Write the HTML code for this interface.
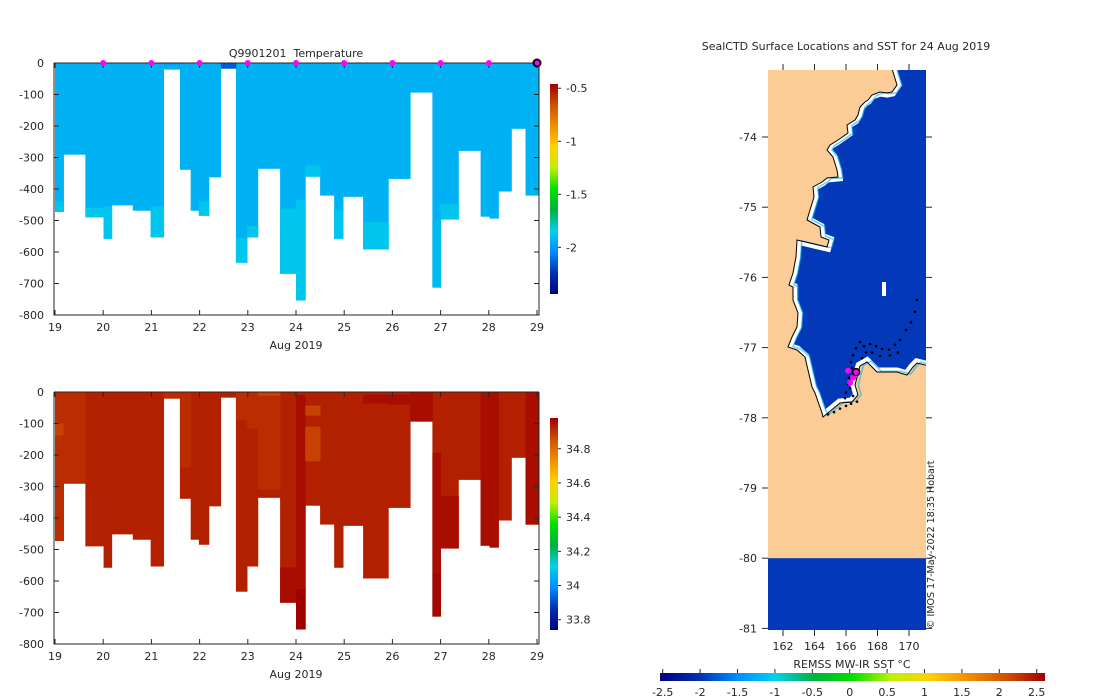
<!DOCTYPE html>
<html><head><meta charset="utf-8"><style>
html,body{margin:0;padding:0;background:#fff;}
svg{display:block;font-family:"DejaVu Sans","Liberation Sans",sans-serif;}
text{fill:#262626;font-size:11px;}
</style></head><body>
<svg id="svg" width="1100" height="700" viewBox="0 0 1100 700">
<defs>
<linearGradient id="gv" x1="0" y1="1" x2="0" y2="0"></linearGradient>
<linearGradient id="gh" x1="0" y1="0" x2="1" y2="0"></linearGradient>
<clipPath id="mapclip"><rect x="768" y="70" width="158" height="560"/></clipPath>
</defs>
<g id="temp"></g>
<g id="sal"></g>
<g id="map"></g>
</svg>
<script>
// ----- profile data -----
const colStart=[19.0,19.177,19.63,20.008,20.177,20.615,20.985,21.254,21.592,21.815,21.985,22.192,22.438,22.754,22.985,23.208,23.67,24.0,24.192,24.5,24.792,24.977,25.392,25.915,26.369,26.83,27.0,27.369,27.83,28.015,28.2,28.469,28.762];
const colEnd=[19.177,19.63,20.008,20.177,20.615,20.985,21.254,21.592,21.815,21.985,22.192,22.438,22.754,22.985,23.208,23.67,24.0,24.192,24.5,24.792,24.977,25.392,25.915,26.369,26.83,27.0,27.369,27.83,28.015,28.2,28.469,28.762,29.038];
const colDepth=[473,291,490,558,452,469,554,21,339,469,485,363,18,634,554,336,669,754,361,421,558,425,592,368,94,713,497,279,488,494,408,209,421];
const tempBase=-1.94;
// [column, topDepth, bottomDepth, value]
const tempSegs=[[0,440,473,-1.88],[2,460,490,-1.88],[3,455,558,-1.88],[6,455,554,-1.88],[7,0,8,-1.99],[10,440,485,-1.88],[12,0,18,-2.15],[13,555,634,-1.88],[14,518,554,-1.88],[16,462,669,-1.88],[17,435,754,-1.88],[18,325,361,-1.88],[20,468,558,-1.88],[22,505,592,-1.88],[25,500,713,-1.91],[26,448,497,-1.88]];
const salBase=34.93;
const salSegs=[[0,0,100,34.91],[0,100,138,34.88],[0,138,473,34.91],[1,0,291,34.91],[7,0,21,34.91],[8,0,239,34.91],[13,0,90,34.91],[14,0,116,34.91],[15,0,13,34.88],[15,13,310,34.91],[16,557,669,34.96],[17,10,625,34.96],[17,625,754,34.99],[18,43,75,34.88],[18,110,220,34.88],[22,8,37,34.96],[23,8,40,34.96],[24,0,94,34.96],[25,193,575,34.96],[25,575,713,34.97],[26,330,497,34.96],[28,0,488,34.96],[29,0,494,34.96],[32,0,421,34.96]];
const dayTicks=[19,20,21,22,23,24,25,26,27,28,29];
const depthTicks=[0,-100,-200,-300,-400,-500,-600,-700,-800];
const tempCbTicks=[-0.5,-1,-1.5,-2];
const salCbTicks=[34.8,34.6,34.4,34.2,34,33.8];
const markerDays=[20,21,22,23,24,25,26,27,28];
const lastMarkerDay=29;
// ----- map data -----
const latTicks=[-74,-75,-76,-77,-78,-79,-80,-81];
const lonTicks=[162,164,166,168,170];
const sstTicks=[-2.5,-2,-1.5,-1,-0.5,0,0.5,1,1.5,2,2.5];
const trackLon=[170.51,170.38,170.13,169.81,169.43,169.11,168.73,168.29,167.91,167.53,167.15,166.89,166.64,166.45,166.32,166.38,166.19,166.26,166.45,166.32,166.0,165.62,165.24,164.86,165.94,166.7,168.16,168.79,169.3,167.66,167.28,167.02,166.13,166.0];
const trackLat=[-76.32,-76.49,-76.64,-76.75,-76.89,-76.96,-77.03,-77.02,-76.98,-76.95,-76.98,-76.92,-77.01,-77.11,-77.21,-77.29,-77.43,-77.58,-77.69,-77.8,-77.83,-77.87,-77.92,-77.95,-77.72,-77.77,-77.12,-77.11,-77.07,-77.07,-77.07,-77.15,-77.52,-77.64];
const surfLon=[166.13,166.45,166.26];
const surfLat=[-77.33,-77.43,-77.5];
const currLon=[166.64], currLat=[-77.35];

const NS="http://www.w3.org/2000/svg";
const svg=document.getElementById('svg');
function mk(tag,attrs,parent){const e=document.createElementNS(NS,tag);for(const k in attrs)e.setAttribute(k,attrs[k]);(parent||svg).appendChild(e);return e;}
const stops=[[0,[0,0,127]],[0.1,[0,48,176]],[0.2,[0,140,255]],[0.3,[0,210,235]],[0.4,[0,176,64]],[0.5,[0,224,0]],[0.6,[192,240,0]],[0.7,[255,208,0]],[0.8,[240,144,0]],[0.9,[208,80,0]],[1,[160,0,0]]];
function cmap(t){t=Math.max(0,Math.min(1,t));for(let i=1;i<stops.length;i++){if(t<=stops[i][0]){const a=stops[i-1],b=stops[i],f=(t-a[0])/(b[0]-a[0]);const c=a[1].map((v,j)=>Math.round(v+(b[1][j]-v)*f));return `rgb(${c[0]},${c[1]},${c[2]})`;}}return 'rgb(160,0,0)';}
['gv','gh'].forEach(id=>{const g=document.getElementById(id);stops.forEach(s=>{mk('stop',{offset:s[0],'stop-color':cmap(s[0])},g);});});

function panel(g,top,vmin,vmax,base,segs,cbTicks,title,isTemp){
  const x0=55,x1=537,bot=top+252;
  const X=d=>x0+(d-19)*(x1-x0)/10;
  const Y=v=>top+(-v)*(bot-top)/800;
  const col=v=>cmap((v-vmin)/(vmax-vmin));
  colStart.forEach((s,i)=>{
    const r=mk('rect',{x:X(s),y:Y(0),width:X(colEnd[i])-X(s)+0.4,height:Y(-colDepth[i])-Y(0),fill:col(base)},g);
    
    
  });
  segs.forEach(sg=>{
    const i=sg[0];
    const r=mk('rect',{x:X(colStart[i]),y:Y(-sg[1]),width:X(colEnd[i])-X(colStart[i])+0.4,height:Y(-sg[2])-Y(-sg[1]),fill:col(sg[3])},g);
    
    
  });
  const ax=mk('g',{},g);
  
  
  mk('path',{d:`M${x0-1},${top}V${bot}H539V${top}`,fill:'none',stroke:'#262626','stroke-width':1},ax);
  mk('line',{x1:x0-1,y1:top,x2:539,y2:top,stroke:'#262626'},ax);
  dayTicks.forEach(d=>{
    mk('line',{x1:X(d),y1:bot,x2:X(d),y2:bot-5,stroke:'#262626'},ax);
    mk('line',{x1:X(d),y1:top,x2:X(d),y2:top+5,stroke:'#262626'},ax);
    const t=mk('text',{x:X(d),y:bot+16,'text-anchor':'middle'},ax);t.textContent=d;
    
  });
  depthTicks.forEach(v=>{
    mk('line',{x1:x0-1,y1:Y(v),x2:x0+4,y2:Y(v),stroke:'#262626'},ax);
    mk('line',{x1:539,y1:Y(v),x2:534,y2:Y(v),stroke:'#262626'},ax);
    const t=mk('text',{x:x0-11,y:Y(v)+4,'text-anchor':'end'},ax);t.textContent=v;
    
  });
  const xl=mk('text',{x:296,y:bot+34,'text-anchor':'middle'},ax);xl.textContent='Aug 2019';
  
  if(title){const tt=mk('text',{x:296,y:top-6,'text-anchor':'middle',style:'white-space:pre'},ax);tt.textContent=title;
    }
  const cbTop=isTemp?84:418, cbBot=isTemp?294:630;
  const cb=mk('rect',{x:550,y:cbTop,width:8,height:cbBot-cbTop,fill:'url(#gv)'},g);
  
  const CY=v=>cbBot-(v-vmin)/(vmax-vmin)*(cbBot-cbTop);
  cbTicks.forEach(v=>{
    mk('line',{x1:558,y1:CY(v),x2:561,y2:CY(v),stroke:'#262626'},g);
    const t=mk('text',{x:566,y:CY(v)+4},g);t.textContent=v;
    
  });
  if(isTemp){
    markerDays.forEach(d=>{const c=mk('circle',{cx:X(d),cy:top,r:3,fill:'#ff00ff'},g);
      });
    const c=mk('circle',{cx:X(lastMarkerDay),cy:top,r:3.5,fill:'#ff00ff',stroke:'#000','stroke-width':2},g);
    
  }
}
panel(document.getElementById('temp'),63,-2.44,-0.46,tempBase,tempSegs,tempCbTicks,'Q9901201  Temperature',true);
panel(document.getElementById('sal'),392,33.74,34.98,salBase,salSegs,salCbTicks,null,false);

// ----- map -----
const M=document.getElementById('map');
const LX=l=>783+(l-162)*15.75;
const LY=l=>137+(-74-l)*70.2;
const mt=mk('text',{x:846,y:50,'text-anchor':'middle'},M);mt.textContent='SealCTD Surface Locations and SST for 24 Aug 2019';

const mg=mk('g',{'clip-path':'url(#mapclip)'},M);
mk('rect',{x:768,y:70,width:158,height:560,fill:'#fccc96'},mg);
mk('rect',{x:768,y:LY(-80),width:158,height:630-LY(-80),fill:'#0338b8'},mg);
const pts="890,60 945,60 945,370 917,363 913,367 907,375 897,372 877,372 867,362 860,366 855,385 858,395 852,402 840,403 823,417 822,413 815,393 812,387 808,370 805,357 797,350 788,347 792,337 797,327 798,313 793,300 793,287 789,285 793,273 796,257 797,240 827,247 829,240 821,237 820,227 807,220 810,210 814,197 813,187 822,182 827,178 838,177 837,170 833,157 827,150 830,145 838,140 848,133 847,125 855,120 858,115 860,107 865,102 868,100 872,95 880,92 887,93 892,92 897,85 893,72";
mk('clipPath',{id:'oceanclip'},svg.querySelector('defs')).appendChild((()=>{const p=document.createElementNS(NS,'polygon');p.setAttribute('points',pts);return p;})());
mk('polygon',{points:pts,fill:'#0338b8'},mg);
mk('polygon',{points:pts,fill:'none',stroke:'#fff','stroke-width':9,'clip-path':'url(#oceanclip)'},mg);
mk('polygon',{points:pts,fill:'none',stroke:'#00b0f0','stroke-width':3,'clip-path':'url(#oceanclip)',transform:'translate(4,0)',opacity:0.6},mg);
mk('polygon',{points:pts,fill:'none',stroke:'#000','stroke-width':1},mg);
mk('rect',{x:882,y:282,width:4,height:14,fill:'#fff'},mg);
trackLon.forEach((l,i)=>{const c=mk('circle',{cx:LX(l),cy:LY(trackLat[i]),r:1.3,fill:'#000'},mg);
  });
surfLon.forEach((l,i)=>{const c=mk('circle',{cx:LX(l),cy:LY(surfLat[i]),r:3,fill:'#ff00ff'},mg);
  });
currLon.forEach((l,i)=>{const c=mk('circle',{cx:LX(l),cy:LY(currLat[i]),r:3.5,fill:'#ff00ff',stroke:'#000','stroke-width':1.5},mg);
  });
latTicks.forEach(v=>{
  mk('line',{x1:762,y1:LY(v),x2:768,y2:LY(v),stroke:'#262626'},M);
  mk('line',{x1:926,y1:LY(v),x2:932,y2:LY(v),stroke:'#262626'},M);
  const t=mk('text',{x:757,y:LY(v)+4,'text-anchor':'end'},M);t.textContent=v;
  
});
lonTicks.forEach(v=>{
  mk('line',{x1:LX(v),y1:630,x2:LX(v),y2:636,stroke:'#262626'},M);
  mk('line',{x1:LX(v),y1:64,x2:LX(v),y2:70,stroke:'#262626'},M);
  const t=mk('text',{x:LX(v),y:650,'text-anchor':'middle'},M);t.textContent=v;
  
});
const cr=mk('text',{x:0,y:0,transform:'translate(934,629) rotate(-90)',style:'font-size:9.5px'},M);cr.textContent='© IMOS 17-May-2022 18:35 Hobart';

const sb=mk('rect',{x:660,y:673,width:385,height:8,fill:'url(#gh)'},M);

const SX=v=>662.7+(v+2.5)*(1036.7-662.7)/5;
sstTicks.forEach(v=>{
  mk('line',{x1:SX(v),y1:669,x2:SX(v),y2:673,stroke:'#262626'},M);
  const t=mk('text',{x:SX(v),y:696,'text-anchor':'middle'},M);t.textContent=v;
  
});
const sl=mk('text',{x:852,y:668,'text-anchor':'middle'},M);sl.textContent='REMSS MW-IR SST °C';

</script>
</body></html>
